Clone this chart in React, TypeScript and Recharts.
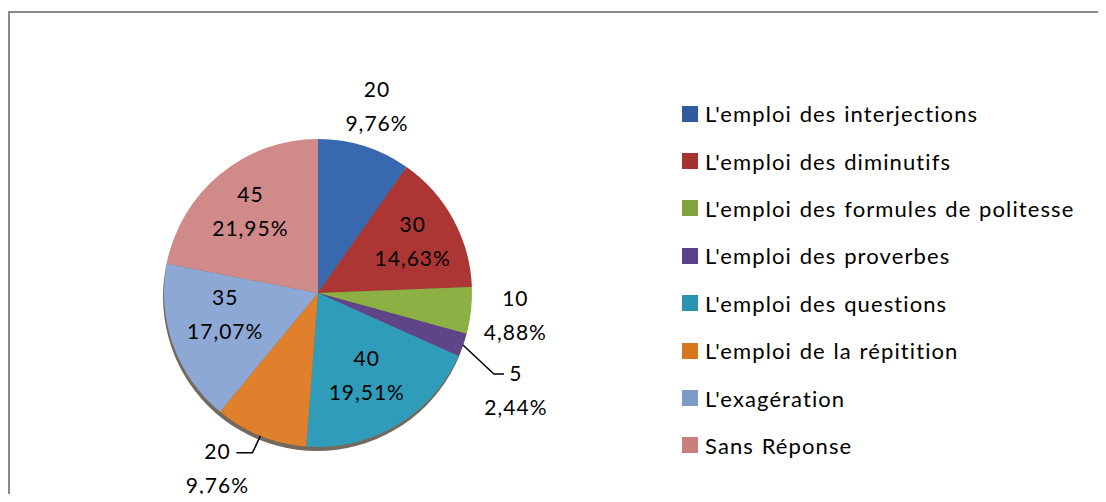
import { PieChart, Pie, Cell, Legend } from "recharts";

const categories = [
  "L'emploi des interjections",
  "L'emploi des diminutifs",
  "L'emploi des formules de politesse",
  "L'emploi des proverbes",
  "L'emploi des questions",
  "L'emploi de la répitition",
  "L'exagération",
  "Sans Réponse",
];

const counts = [20, 30, 10, 5, 40, 20, 35, 45];

const sliceColors = [
  "#3868ae",
  "#ab3633",
  "#8cb044",
  "#5f4487",
  "#2f9cba",
  "#e07f2c",
  "#8ea8d5",
  "#d08a89",
];

const swatchColors = [
  "#2e5c9c",
  "#a53230",
  "#80a33e",
  "#5b3f88",
  "#2a93b0",
  "#d9741f",
  "#7f99c9",
  "#c97f7e",
];

const total = counts.reduce((a, b) => a + b, 0);
const data = categories.map((name, i) => ({ name, value: counts[i] }));
const shadowData = [{ name: "shadow", value: total }];

const RADIAN = Math.PI / 180;
const FONT = "Lato, 'Open Sans', sans-serif";
const FONT_SIZE = 21;

const fmtPct = (v: number) =>
  ((v / total) * 100).toFixed(2).replace(".", ",") + "%";

// where each slice's label goes: f = fraction of radius, or a leader line
type LabelCfg = { f?: number; dx?: number; dy?: number; leader?: [number, number, number] };
const LABEL_POS: LabelCfg[] = [
  { f: 1.27 },
  { f: 0.7 },
  { f: 1.29 },
  { leader: [31, 29, 10] },
  { f: 0.62 },
  { leader: [-8, 17, -16] },
  { f: 0.64, dy: -12 },
  { f: 0.69 },
];

function renderLabel(props: any) {
  const { cx, cy, midAngle, outerRadius, index, value } = props;
  const cfg = LABEL_POS[index];
  const cos = Math.cos(-midAngle * RADIAN);
  const sin = Math.sin(-midAngle * RADIAN);
  const pct = fmtPct(value);
  const txt = {
    fontFamily: FONT,
    fontSize: FONT_SIZE,
    letterSpacing: 1,
    fill: "#000",
    textAnchor: "middle" as const,
    dominantBaseline: "central" as const,
  };

  if (cfg.leader) {
    const [ex, ey, run] = cfg.leader;
    const sx = cx + outerRadius * cos;
    const sy = cy + outerRadius * sin;
    const mx = sx + ex;
    const my = sy + ey;
    const lx = mx + run;
    const tx = lx + (run > 0 ? 12 : -19);
    return (
      <g>
        <path
          d={`M${sx},${sy}L${mx},${my}L${lx},${my}`}
          stroke="#000"
          strokeWidth={1.5}
          fill="none"
        />
        <text x={tx} y={my - 2} {...txt}>
          {value}
        </text>
        <text x={tx} y={my + 32} {...txt}>
          {pct}
        </text>
      </g>
    );
  }

  const r = outerRadius * (cfg.f ?? 0.7);
  const x = cx + r * cos + (cfg.dx ?? 0);
  const y = cy + r * sin + (cfg.dy ?? 0);
  return (
    <g>
      <text x={x} y={y - 18} {...txt}>
        {value}
      </text>
      <text x={x} y={y + 16} {...txt}>
        {pct}
      </text>
    </g>
  );
}

function renderLegend() {
  return (
    <div
      style={{
        fontFamily: FONT,
        fontSize: 22,
        letterSpacing: 1.1,
        wordSpacing: 1,
        color: "#000",
      }}
    >
      {categories.map((c, i) => (
        <div
          key={c}
          style={{ display: "flex", alignItems: "center", height: 47.4 }}
        >
          <span
            style={{
              display: "inline-block",
              flex: "none",
              width: 16,
              height: 16,
              background: swatchColors[i],
              marginRight: 7,
            }}
          />
          <span style={{ whiteSpace: "nowrap" }}>{c}</span>
        </div>
      ))}
    </div>
  );
}

export default function App() {
  return (
    <div
      style={{
        position: "relative",
        width: 1106,
        height: 502,
        margin: -8,
        overflow: "hidden",
        background: "#fff",
      }}
    >
      <div
        style={{
          position: "absolute",
          left: 8,
          top: 11,
          width: 1300,
          height: 700,
          borderTop: "2px solid #8a8a8a",
          borderLeft: "2px solid #8a8a8a",
        }}
      />
      <div style={{ position: "absolute", left: 0, top: 0 }}>
        <PieChart
          width={1106}
          height={502}
          margin={{ top: 0, right: 0, bottom: 0, left: 0 }}
        >
          <Pie
            data={shadowData}
            dataKey="value"
            cx={317}
            cy={297}
            outerRadius={154}
            stroke="none"
            fill="#3a2a1a"
            fillOpacity={0.7}
            legendType="none"
            isAnimationActive={false}
          />
          <Pie
            data={data}
            dataKey="value"
            nameKey="name"
            cx={318}
            cy={293}
            outerRadius={154}
            startAngle={90}
            endAngle={-270}
            stroke="none"
            label={renderLabel}
            labelLine={false}
            isAnimationActive={false}
          >
            {data.map((d, i) => (
              <Cell key={d.name} fill={sliceColors[i]} />
            ))}
          </Pie>
          <Legend
            layout="vertical"
            verticalAlign="top"
            align="right"
            content={renderLegend}
            wrapperStyle={{ left: 682, top: 90, width: 420 }}
          />
        </PieChart>
      </div>
    </div>
  );
}
